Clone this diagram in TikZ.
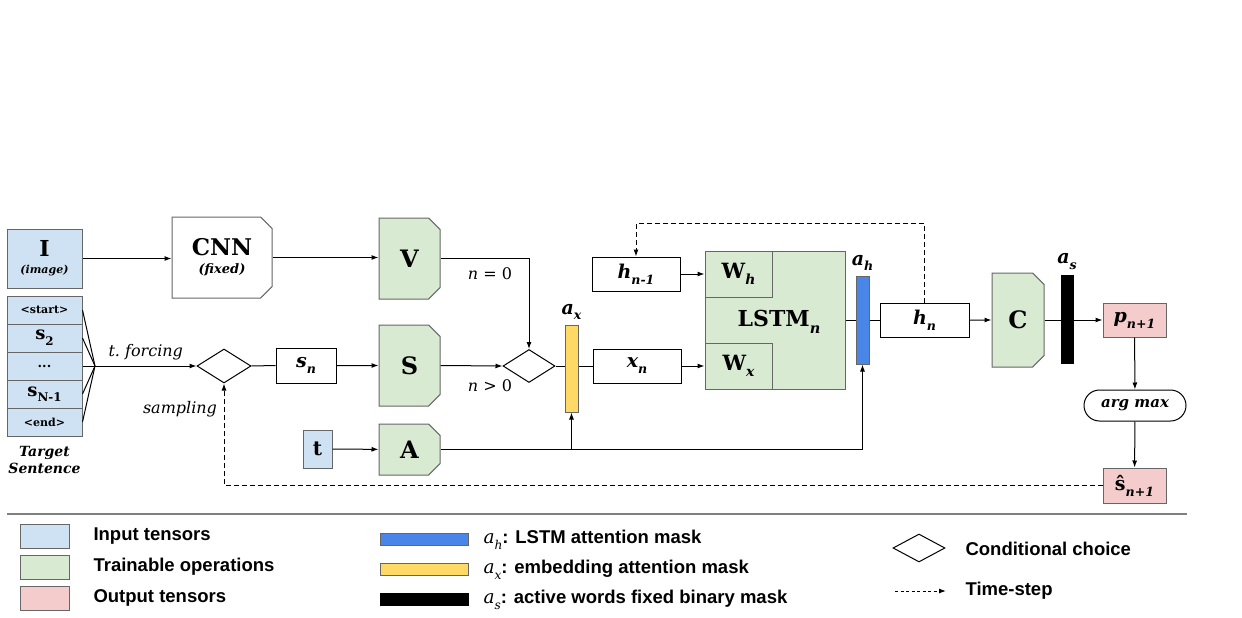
\documentclass[tikz,border=0pt]{standalone}
\usepackage{fontspec}
\setmainfont{DejaVu Serif}
\newfontfamily\legfont{Liberation Sans}
\usetikzlibrary{arrows.meta,positioning,shapes.geometric,shapes.misc,calc}
\definecolor{inBlue}{HTML}{CFE2F3}
\definecolor{opGreen}{HTML}{D9EAD3}
\definecolor{outPink}{HTML}{F4CCCC}
\definecolor{maskBlue}{HTML}{4A86E8}
\definecolor{maskYellow}{HTML}{FFD966}
\definecolor{edge}{HTML}{666666}
\definecolor{rule}{HTML}{808080}
\newcommand{\fsz}[1]{\fontsize{#1}{#1}\selectfont}
\newcommand{\sub}[1]{\raisebox{-0.6ex}{\scalebox{0.66}{#1}}}
\newcommand{\legvar}[2]{{\rmfamily\mdseries\itshape #1\sub{#2}}}

\begin{document}
\begin{tikzpicture}[x=1pt,y=-1pt,
  plain/.style={draw=black,line width=1pt,inner sep=0pt,align=center},
  inbox/.style={plain,draw=edge,fill=inBlue},
  outbox/.style={plain,draw=edge,fill=outPink},
  word/.style={inbox,minimum width=75pt,minimum height=28pt},
  opbox/.style={plain,draw=edge,fill=opGreen,chamfered rectangle,
    chamfered rectangle corners={north east,south east},chamfered rectangle xsep=8pt},
  mask/.style={draw=edge,line width=1pt,inner sep=0pt,minimum width=13pt},
  choice/.style={draw=black,line width=1pt,diamond,inner sep=0pt,minimum width=54pt,minimum height=34pt},
  link/.style={line width=1pt},
  arr/.style={link,-{Latex[length=7pt,width=5pt]}},
  loop/.style={arr,dash pattern=on 5pt off 3pt},
  label/.style={font=\fsz{16}},
  legtext/.style={font=\legfont\bfseries\fsz{18.5},anchor=west}
]
  \useasboundingbox (0,0) rectangle (1242,618);

  % inputs
  \node[inbox,minimum width=75pt,minimum height=59pt] (img) at (44.5,258.5)
    {\fsz{22}\bfseries I\\[5pt]\fsz{11}\bfseries\itshape (image)};
  \node[word,font=\fsz{11}\bfseries] (wStart) at (44.5,310) {<start>};
  \node[word,font=\fsz{18}\bfseries,below=-1pt of wStart] (w2) {s\sub{2}};
  \node[word,font=\fsz{13}\bfseries,below=-1pt of w2] (wDots) {...};
  \node[word,font=\fsz{18}\bfseries,below=-1pt of wDots] (wLast) {s\sub{N-1}};
  \node[word,font=\fsz{11}\bfseries,below=-1pt of wLast] (wEnd) {<end>};
  \node[font=\fsz{14}\bfseries\itshape,align=center,below=6pt of wEnd] (target) {Target\\[3pt]Sentence};
  \node[inbox,minimum width=29pt,minimum height=38pt,font=\fsz{20}\bfseries] (tin) at (317.5,449) {t};

  % teacher forcing / sampling choice
  \coordinate (fan) at (95,366);
  \foreach \w in {wStart,w2,wDots,wLast,wEnd}
    \draw[link] (\w.east) -- (fan);
  \node[choice] (choiceS) at (224,366) {};
  \draw[arr] (fan) -- (choiceS.west) node[label,midway,above=2pt] {\itshape t.~forcing};
  \node[label] at (180,409) {\itshape sampling};
  \node[plain,minimum width=60pt,minimum height=35pt,font=\fsz{19}\bfseries\itshape] (sn) at (306,365.5) {s\sub{n}};

  % embeddings
  \node[opbox,fill=white,minimum width=100pt,minimum height=81pt] (cnn) at (222,257.5)
    {\fsz{23}\bfseries CNN\\[6pt]\fsz{13}\bfseries\itshape (fixed)};
  \node[opbox,minimum width=61pt,minimum height=81pt,font=\fsz{24}\bfseries] (opV) at (409.5,258.5) {V};
  \node[opbox,minimum width=61pt,minimum height=81pt,font=\fsz{24}\bfseries] (opS) at (409.5,365.5) {S};
  \node[opbox,minimum width=61pt,minimum height=51pt,font=\fsz{24}\bfseries] (opA) at (409.5,449.5) {A};
  \node[choice,minimum width=52pt,minimum height=33pt] (choiceX) at (529,366) {};
  \node[mask,fill=maskYellow,minimum height=87pt] (ax) at (571.5,368.5) {};
  \node[font=\fsz{19}\bfseries\itshape,above=1pt of ax] {a\sub{x}};

  % LSTM
  \node[plain,minimum width=88pt,minimum height=34pt,font=\fsz{19}\bfseries\itshape] (xn) at (637,366) {x\sub{n}};
  \node[plain,minimum width=88pt,minimum height=34pt,font=\fsz{19}\bfseries\itshape] (hprev) at (636,274) {h\sub{n-1}};
  \node[plain,draw=edge,fill=opGreen,minimum width=140pt,minimum height=138pt] (lstm) at (775,320) {};
  \node[font=\fsz{22}\bfseries] at ([xshift=4pt,yshift=-2pt]lstm.center) {LSTM\sub{\itshape n}};
  \node[plain,draw=edge,fill=opGreen,minimum width=67pt,minimum height=46pt,anchor=north west,
    font=\fsz{21}\bfseries] (wh) at (lstm.north west) {W\sub{\itshape h}};
  \node[plain,draw=edge,fill=opGreen,minimum width=67pt,minimum height=46pt,anchor=south west,
    font=\fsz{21}\bfseries] (wx) at (lstm.south west) {W\sub{\itshape x}};
  \node[mask,fill=maskBlue,minimum height=88pt] (ah) at (862.5,320) {};
  \node[font=\fsz{19}\bfseries\itshape,above=1pt of ah] {a\sub{h}};
  \node[plain,minimum width=89pt,minimum height=34pt,font=\fsz{19}\bfseries\itshape] (hn) at (924.5,320) {h\sub{n}};

  % output
  \node[opbox,minimum width=52pt,minimum height=94pt,font=\fsz{24}\bfseries] (opC) at (1018,320) {C};
  \node[mask,fill=black,draw=black,minimum width=12pt,minimum height=88pt] (as) at (1067,319) {};
  \node[font=\fsz{19}\bfseries\itshape,above=1pt of as] {a\sub{s}};
  \node[outbox,minimum width=63pt,minimum height=34pt,font=\fsz{19}\bfseries\itshape] (pnext) at (1134.5,320) {p\sub{n+1}};
  \node[plain,rounded corners=15.5pt,minimum width=102pt,minimum height=31pt,font=\fsz{15}\bfseries\itshape] (argmax) at (1135,405.5) {arg max};
  \node[outbox,minimum width=63pt,minimum height=35pt,font=\fsz{19}\bfseries] (snext) at (1134.5,485.5) {ŝ\sub{\itshape n+1}};

  % connectors
  \draw[arr] (img.east) -- (img.east -| cnn.west);
  \draw[arr] (cnn.east) -- (cnn.east -| opV.west);
  \draw[link] (choiceS.east) -- (sn.west);
  \draw[arr] (sn) -- (opS);
  \draw[arr] (opV.east) -| (choiceX.north);
  \node[label] at (490,274) {\textit{n} = 0};
  \draw[arr] (opS.east) -- (choiceX.west);
  \node[label] at (490,386) {\textit{n} > 0};
  \draw[link] (choiceX.east) -- (ax.west |- choiceX.east);
  \draw[link] (ax.east |- xn.west) -- (xn.west);
  \draw[arr] (tin) -- (opA);
  \draw[arr] (opA.east) -| (ah.south);
  \draw[arr] (ax.south |- opA.east) -- (ax.south);
  \draw[arr] (hprev) -- (wh);
  \draw[arr] (xn) -- (wx);
  \draw[link] (lstm.east) -- (ah.west |- lstm.east);
  \draw[link] (ah.east |- hn.west) -- (hn.west);
  \draw[arr] (hn) -- (opC);
  \draw[link] (opC.east) -- (as.west |- opC.east);
  \draw[arr] (as.east |- pnext.west) -- (pnext.west);
  \draw[arr] (pnext) -- (argmax);
  \draw[arr] (argmax) -- (snext);
  \draw[loop] (hn.north) -- ++(0,-79) -| (hprev.north);
  \draw[loop] (snext.west) -| (choiceS.south);

  % legend
  \draw[rule,line width=2pt] (7,514) -- (1187,514);
  \node[inbox,minimum width=49pt,minimum height=24pt] (legIn) at (44.5,536) {};
  \node[legtext] at (90,536) {Input tensors};
  \node[plain,draw=edge,fill=opGreen,minimum width=49pt,minimum height=24pt] (legOp) at (44.5,567) {};
  \node[legtext] at (90,567) {Trainable operations};
  \node[outbox,minimum width=49pt,minimum height=24pt] (legOut) at (44.5,598) {};
  \node[legtext] at (90,598) {Output tensors};
  \node[mask,fill=maskBlue,minimum width=88pt,minimum height=12pt] (legAh) at (424,539) {};
  \node[legtext] at (480,540) {\legvar{a}{h}: LSTM attention mask};
  \node[mask,fill=maskYellow,minimum width=88pt,minimum height=12pt] (legAx) at (424,569) {};
  \node[legtext] at (480,570) {\legvar{a}{x}: embedding attention mask};
  \node[mask,fill=black,draw=black,minimum width=88pt,minimum height=12pt] (legAs) at (424,599) {};
  \node[legtext] at (480,600) {\legvar{a}{s}: active words fixed binary mask};
  \node[choice,minimum width=52pt,minimum height=28pt] (legChoice) at (919,548) {};
  \node[legtext] at (962,549) {Conditional choice};
  \coordinate (legTsA) at (895,591);
  \coordinate (legTsB) at (946,591);
  \draw[loop,dash pattern=on 3pt off 2.5pt] (legTsA) -- (legTsB);
  \node[legtext] at (962,591) {Time-step};
\end{tikzpicture}
\end{document}
